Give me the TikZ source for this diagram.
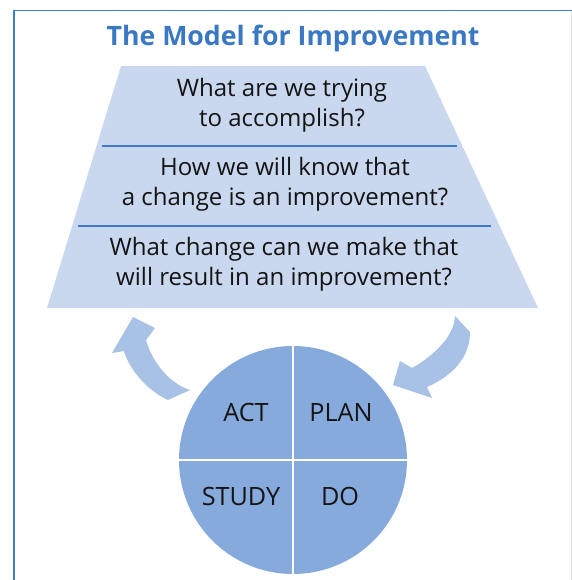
\documentclass[tikz,border=0pt]{standalone}
\usepackage{fontspec}
\setmainfont{Open Sans}
\usetikzlibrary{positioning}
\definecolor{titleblue}{HTML}{3A78C3}
\definecolor{frameblue}{HTML}{3D7FD1}
\definecolor{framegray}{HTML}{E2E2E2}
\definecolor{trapfill}{HTML}{C9D8EF}
\definecolor{ruleblue}{HTML}{3F7BC9}
\definecolor{pdsafill}{HTML}{87AADC}
\definecolor{arrowfill}{HTML}{A8C2E6}
\definecolor{ink}{HTML}{141414}
\tikzset{
  question/.style={align=center,font=\fontsize{20.5}{25.5}\selectfont,
                   text=ink,inner sep=0pt},
  phase/.style={font=\fontsize{21.5}{25}\selectfont,text=ink,inner sep=0pt},
  divider/.style={draw=ruleblue,line width=1.4pt},
  bendarrow/.style={fill=arrowfill,draw=none},
  crossline/.style={draw=white,line width=2.4pt}
}

\begin{document}
\begin{tikzpicture}[x=0.03cm,y=-0.03cm]
    \useasboundingbox (0,0) rectangle (572,580);

    % frame
    \draw[frameblue,line width=1.4pt] (14,580) -- (14,10.5) -- (572,10.5);
    \draw[framegray,line width=0.8pt] (571,11) -- (571,580);

    \node[font=\bfseries\fontsize{22.8}{27}\selectfont,text=titleblue]
      (title) at (293,38.5) {The Model for Improvement};

    % the three questions
    \fill[trapfill] (121,66) -- (425,66) -- (538,308) -- (47,308) -- cycle;
    \draw[divider] (102,146) -- (457,146);
    \draw[divider] (78,226) -- (491,226);
    \node[question] (aim) at (282,105) {What are we trying\\to accomplish?};
    \node[question] (measure) at (285,184)
      {How we will know that\\a change is an improvement?};
    \node[question] (change) at (284,264)
      {What change can we make that\\will result in an improvement?};

    % PDSA cycle
    \node[circle,fill=pdsafill,inner sep=0pt,minimum size=6.84cm]
      (pdsa) at (293,460) {};
    \draw[crossline] (pdsa.north) -- (pdsa.south);
    \draw[crossline] (pdsa.west) -- (pdsa.east);
    \node[phase] (act) at (246,412) {ACT};
    \node[phase] (plan) at (341,412) {PLAN};
    \node[phase] (study) at (241,496) {STUDY};
    \node[phase] (do) at (340,496) {DO};

    % curved arrows
    \fill[bendarrow] (133,317) -- (155,328) -- (146,340)
      .. controls (152,362) and (170,384) .. (190,390)
      -- (168,400)
      .. controls (150,392) and (130,372) .. (124,351)
      -- (112,353) -- cycle;
    \fill[bendarrow] (455,316) -- (470,332)
      .. controls (470,358) and (452,376) .. (427,387)
      -- (432,398) -- (393,385) -- (400,361) -- (412,368)
      .. controls (435,355) and (454,336) .. cycle;
\end{tikzpicture}
\end{document}
